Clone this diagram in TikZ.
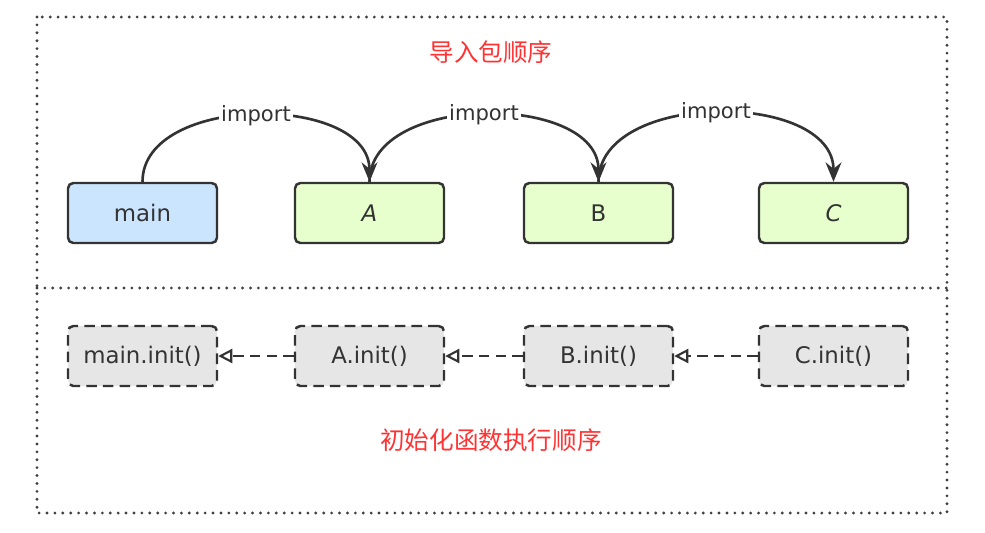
\documentclass[tikz,border=0pt]{standalone}
\usepackage{fontspec}
\setmainfont{DejaVu Sans}
\newfontfamily\cjk{Noto Sans CJK SC}
\usetikzlibrary{arrows.meta}
\definecolor{mainblue}{RGB}{204,229,255}
\definecolor{pkggreen}{RGB}{230,255,204}
\definecolor{initgrey}{RGB}{230,230,230}
\definecolor{titlered}{RGB}{255,51,51}

\begin{document}
\begin{tikzpicture}[x=0.02cm,y=-0.02cm,
    pkg/.style={draw=black!80,line width=1.4pt,rounded corners=3pt,minimum width=2.98cm,minimum height=1.2cm,font=\fontsize{13}{15}\selectfont,text=black!80},
    initbox/.style={pkg,fill=initgrey,dash pattern=on 6pt off 3.5pt},
    frame/.style={draw=black!75,line width=1.8pt,line cap=round,dash pattern=on 0pt off 4.5pt},
    imp/.style={draw=black!80,line width=1.5pt,-{Stealth[length=11pt,width=9pt]}},
    initarr/.style={draw=black!80,line width=1.3pt,dash pattern=on 6pt off 3.5pt,-{Triangle[open,length=8pt,width=8pt,line width=1.2pt]}},
    title/.style={font=\cjk\fontsize{14}{16}\selectfont,text=titlered}]
    \useasboundingbox (0,0) rectangle (985,532);
    \draw[frame] (37,17) rectangle (947,513);
    \draw[frame] (37,288) -- (947,288);

    \node[title] (t1) at (491,52) {导入包顺序};
    \node[title] (t2) at (491,440) {初始化函数执行顺序};

    \node[pkg,fill=mainblue] (main) at (142.5,213) {main};
    \node[pkg,fill=pkggreen] (A) at (369.5,213) {\textit{A}};
    \node[pkg,fill=pkggreen] (B) at (598.5,213) {B};
    \node[pkg,fill=pkggreen] (C) at (833.5,213) {\textit{C}};

    \node[initbox] (maininit) at (142.5,356) {main.init()};
    \node[initbox] (Ainit) at (369.5,356) {A.init()};
    \node[initbox] (Binit) at (598.5,356) {B.init()};
    \node[initbox] (Cinit) at (833.5,356) {C.init()};

    \draw[imp] (main.north) to[out=90,in=90] node[fill=white,inner sep=1pt,font=\fontsize{12}{14}\selectfont,text=black!80] {import} (A.north);
    \draw[imp] (A.north) to[out=90,in=90] node[fill=white,inner sep=1pt,font=\fontsize{12}{14}\selectfont,text=black!80] {import} (B.north);
    \draw[imp] (B.north) to[out=90,in=90] node[fill=white,inner sep=1pt,font=\fontsize{12}{14}\selectfont,text=black!80] {import} (C.north);

    \draw[initarr] (Ainit) to (maininit);
    \draw[initarr] (Binit) to (Ainit);
    \draw[initarr] (Cinit) to (Binit);
\end{tikzpicture}
\end{document}
